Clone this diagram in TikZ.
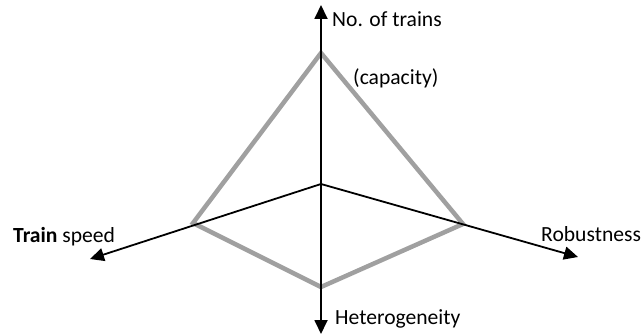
\documentclass[tikz,border=0pt]{standalone}
\usepackage{fontspec}
\setmainfont{Carlito}
\usetikzlibrary{arrows.meta}
\begin{document}
\begin{tikzpicture}[x=1pt,y=-1pt,
  axis/.style={line width=1.8pt,-{Triangle[length=14pt,width=13pt]}},
  axis2/.style={line width=1.8pt,{Triangle[length=14pt,width=13pt]}-{Triangle[length=14pt,width=13pt]}},
  poly/.style={line width=4.5pt,draw={rgb,255:red,160;green,160;blue,160},line join=miter},
  lbl/.style={font=\fontsize{21.6}{25}\selectfont,inner sep=0pt,anchor=base west}]
\useasboundingbox (0,0) rectangle (644,336);
\coordinate (O) at (321,184);
\coordinate (T) at (321,5);
\coordinate (B) at (321,334);
\coordinate (L) at (90,259);
\coordinate (R) at (578,257);
\coordinate (pt) at (321,53);
\coordinate (pl) at (193,223);
\coordinate (pr) at (463,224);
\coordinate (pb) at (321,287);
\draw[poly] (pt) -- (pr) -- (pb) -- (pl) -- cycle;
\draw[axis2] (B) -- (T);
\draw[axis] (O) -- (L);
\draw[axis] (O) -- (R);
\node[lbl] (n1) at (332,27) {No. of trains};
\node[lbl] (n2) at (353,85) {(capacity)};
\node[lbl] (n3) at (13,243) {\textbf{Train} speed};
\node[lbl] (n4) at (541,242) {Robustness};
\node[lbl] (n5) at (335,324) {Heterogeneity};
\end{tikzpicture}
\end{document}
